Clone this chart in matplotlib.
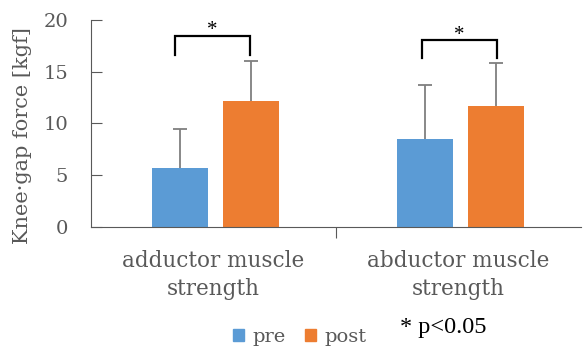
import matplotlib
matplotlib.use("Agg")
import matplotlib.pyplot as plt
from matplotlib.patches import Patch
import numpy as np

categories = ["adductor muscle\nstrength", "abductor muscle\nstrength"]
series_names = ["pre", "post"]
pre_vals = [5.7, 8.5]
post_vals = [12.2, 11.7]
pre_err = [3.8, 5.2]
post_err = [3.8, 4.1]
yticks = [0, 5, 10, 15, 20]

plt.rcParams['font.family'] = ['DejaVu Serif']
gray = '#595959'
errgray = '#7f7f7f'
blue = '#5B9BD5'
orange = '#ED7D31'

fig = plt.figure(figsize=(5.85, 3.51), dpi=100)
ax = fig.add_axes([0.1556, 0.3533, 0.8374, 0.5897])

x = np.arange(len(categories))
w = 0.229
off_pre, off_post = -0.135, 0.154
ax.bar(x + off_pre, pre_vals, w, color=blue, zorder=2)
ax.bar(x + off_post, post_vals, w, color=orange, zorder=2)
for xs, vals, errs in [(x + off_pre, pre_vals, pre_err), (x + off_post, post_vals, post_err)]:
    tops = np.array(vals) + np.array(errs)
    ax.vlines(xs, vals, tops, color=errgray, lw=1.3, zorder=3)
    ax.plot(xs, tops, ls='none', marker='_', ms=9.5, mew=1.3, color=errgray, zorder=3)

# significance brackets
brackets = [(-0.157, 0.149, 16.6, 18.5), (0.853, 1.157, 16.3, 18.1)]
for x0, x1, yb, yt in brackets:
    ax.plot([x0, x0, x1, x1], [yb, yt, yt, yb], color='black', lw=1.6,
            solid_joinstyle='miter', clip_on=False)
    ax.text((x0 + x1) / 2, yt + 0.45, '*', ha='center', va='center',
            fontsize=15, color='black', family='Liberation Serif', clip_on=False)

ax.set_xlim(-0.5, 1.5)
ax.set_ylim(0, 20)
ax.set_yticks(yticks)
ax.set_yticklabels([str(t) for t in yticks], fontsize=14, color=gray)
ax.tick_params(axis='y', direction='in', length=8, color=gray, pad=16.5)
ax.set_xticks([0.5], minor=False)
ax.set_xticklabels([''])
ax.tick_params(axis='x', direction='out', length=8, color=gray)
for i, c in enumerate(categories):
    ax.text(i, -2.2, c, ha='center', va='top', fontsize=15.5, color=gray,
            linespacing=1.35)

for s in ['top', 'right']:
    ax.spines[s].set_visible(False)
ax.spines['left'].set_color(gray)
ax.spines['bottom'].set_color(gray)
ax.set_ylabel('Knee·gap force [kgf]', fontsize=15, color=gray)
ax.yaxis.set_label_coords(-0.12, 0.44)

handles = [Patch(color=blue), Patch(color=orange)]
fig.legend(handles, series_names, loc='center', bbox_to_anchor=(0.512, 0.04),
           ncol=2, frameon=False, fontsize=14, handlelength=0.6, handleheight=0.6,
           handletextpad=0.4, columnspacing=1.0, labelcolor=gray)
fig.text(0.684, 0.068, '* p<0.05', fontsize=17.5, color='black', ha='left', va='center',
         family='Liberation Serif')

fig.savefig('out.png', dpi=100)
